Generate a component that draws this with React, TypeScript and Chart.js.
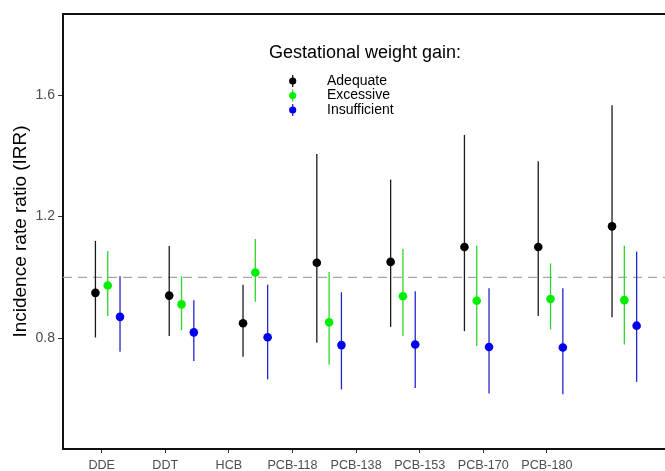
import React, { useEffect, useRef } from "react";
import { Chart, registerables } from "chart.js";

Chart.register(...registerables);

const categories = ["DDE", "DDT", "HCB", "PCB-118", "PCB-138", "PCB-153", "PCB-170", "PCB-180"];
const seriesNames = ["Adequate", "Excessive", "Insufficient"];

const adequateEst = [0.949, 0.940, 0.849, 1.048, 1.051, 1.100, 1.100, 1.168];
const adequateLow = [0.802, 0.807, 0.739, 0.785, 0.837, 0.823, 0.873, 0.869];
const adequateHigh = [1.120, 1.103, 0.976, 1.406, 1.322, 1.469, 1.382, 1.567];

const excessiveEst = [0.973, 0.911, 1.016, 0.852, 0.938, 0.923, 0.929, 0.925];
const excessiveLow = [0.873, 0.826, 0.920, 0.712, 0.807, 0.774, 0.829, 0.779];
const excessiveHigh = [1.087, 1.004, 1.126, 1.018, 1.093, 1.105, 1.046, 1.104];

const insufficientEst = [0.870, 0.819, 0.803, 0.777, 0.779, 0.771, 0.769, 0.841];
const insufficientLow = [0.755, 0.725, 0.664, 0.631, 0.636, 0.618, 0.615, 0.656];
const insufficientHigh = [1.004, 0.925, 0.976, 0.951, 0.954, 0.964, 0.964, 1.085];

const yTicks = [0.8, 1.2, 1.6];
const referenceLine = 1.0;
const legendTitle = "Gestational weight gain:";
const yTitle = "Incidence rate ratio (IRR)";

const FONT = '"Liberation Sans", Arial, sans-serif';
const pointColors = ["#000000", "#00ee00", "#0000ee"];
const lineColors = ["#1a1a1a", "#2fd52f", "#2424c8"];
const dodge = [-1 / 6, 0, 1 / 6];

const estimates = [adequateEst, excessiveEst, insufficientEst];
const lows = [adequateLow, excessiveLow, insufficientLow];
const highs = [adequateHigh, excessiveHigh, insufficientHigh];

const decorPlugin = {
  id: "decor",
  beforeDatasetsDraw(chart: any) {
    const { ctx, chartArea, scales } = chart;
    const ys = scales.y;
    const xs = scales.x;
    ctx.save();
    const yr = ys.getPixelForValue(referenceLine);
    ctx.strokeStyle = "#a6a6a6";
    ctx.lineWidth = 1.3;
    ctx.setLineDash([9, 6]);
    ctx.beginPath();
    ctx.moveTo(chartArea.left, yr);
    ctx.lineTo(chartArea.right, yr);
    ctx.stroke();
    ctx.setLineDash([]);
    chart.data.datasets.forEach((ds: any, k: number) => {
      ctx.strokeStyle = lineColors[k];
      ctx.lineWidth = 1.3;
      ds.data.forEach((p: any) => {
        const x = xs.getPixelForValue(p.x);
        ctx.beginPath();
        ctx.moveTo(x, ys.getPixelForValue(p.low));
        ctx.lineTo(x, ys.getPixelForValue(p.high));
        ctx.stroke();
      });
    });
    ctx.restore();
  },
  afterDraw(chart: any) {
    const { ctx, chartArea } = chart;
    ctx.save();
    ctx.strokeStyle = "#111";
    ctx.lineWidth = 2;
    ctx.beginPath();
    ctx.moveTo(chartArea.left - 1, chartArea.top);
    ctx.lineTo(chartArea.right, chartArea.top);
    ctx.stroke();
    ctx.fillStyle = "#000";
    ctx.textAlign = "left";
    ctx.textBaseline = "middle";
    ctx.font = `18px ${FONT}`;
    ctx.fillText(legendTitle, 269, 53.5);
    ctx.font = `14px ${FONT}`;
    seriesNames.forEach((name, k) => {
      const y = 81 + k * 14.5;
      const x = 292.7;
      ctx.strokeStyle = lineColors[k];
      ctx.lineWidth = 1.3;
      ctx.beginPath();
      ctx.moveTo(x, y - 6);
      ctx.lineTo(x, y + 6);
      ctx.stroke();
      ctx.fillStyle = pointColors[k];
      ctx.beginPath();
      ctx.arc(x, y, 3.6, 0, Math.PI * 2);
      ctx.fill();
      ctx.fillStyle = "#000";
      ctx.fillText(name, 327, y);
    });
    ctx.restore();
  },
};

export default function App() {
  const ref = useRef<HTMLCanvasElement | null>(null);
  useEffect(() => {
    if (!ref.current) return;
    const datasets = seriesNames.map((name, k) => ({
      label: name,
      data: categories.map((_, i) => ({
        x: i + dodge[k],
        y: estimates[k][i],
        low: lows[k][i],
        high: highs[k][i],
      })),
      backgroundColor: pointColors[k],
      borderColor: pointColors[k],
      pointRadius: 4.3,
      pointBorderWidth: 0,
      showLine: false,
      xAxisID: "x",
      yAxisID: "y",
    }));
    const chart = new Chart(ref.current, {
      type: "scatter",
      data: { datasets } as any,
      plugins: [decorPlugin],
      options: {
        responsive: false,
        animation: false,
        layout: { autoPadding: false, padding: { top: 14, left: 0, right: 0, bottom: 0 } },
        plugins: { legend: { display: false }, tooltip: { enabled: false } },
        scales: {
          x: { type: "linear", min: -0.606, max: 7.551, display: false },
          xl: {
            type: "linear",
            position: "bottom",
            min: -0.608,
            max: 8.857,
            afterBuildTicks: (s: any) => {
              s.ticks = categories.map((_, i) => ({ value: i }));
            },
            afterFit: (s: any) => {
              s.height = 22;
              s.paddingLeft = 0;
              s.paddingRight = 0;
            },
            ticks: {
              autoSkip: false,
              maxRotation: 0,
              padding: 5,
              color: "#4d4d4d",
              font: { size: 12.6, family: FONT },
              callback: (v: any) => categories[Math.round(v)] ?? "",
            },
            grid: { drawOnChartArea: false, drawTicks: true, tickLength: 4, color: "#333", lineWidth: 1 },
            border: { display: true, color: "#111", width: 2 },
          },
          y: {
            type: "linear",
            min: 0.435,
            max: 1.867,
            afterBuildTicks: (s: any) => {
              s.ticks = yTicks.map((v) => ({ value: v }));
            },
            afterFit: (s: any) => {
              s.width = 63;
              s.paddingTop = 0;
              s.paddingBottom = 0;
            },
            ticks: {
              padding: 3,
              color: "#4d4d4d",
              font: { size: 14, family: FONT },
              callback: (v: any) => Number(v).toFixed(1),
            },
            grid: { drawOnChartArea: false, drawTicks: true, tickLength: 5, color: "#333", lineWidth: 1 },
            border: { display: true, color: "#111", width: 2 },
            title: {
              display: true,
              text: yTitle,
              color: "#000",
              font: { size: 19, family: FONT },
              padding: { top: 9.5, bottom: 0 },
            },
          },
        },
      } as any,
    });
    return () => chart.destroy();
  }, []);
  return (
    <div style={{ position: "absolute", left: 0, top: 0, width: 665, height: 471, background: "#fff" }}>
      <canvas ref={ref} width={665} height={471} style={{ display: "block" }} />
    </div>
  );
}
